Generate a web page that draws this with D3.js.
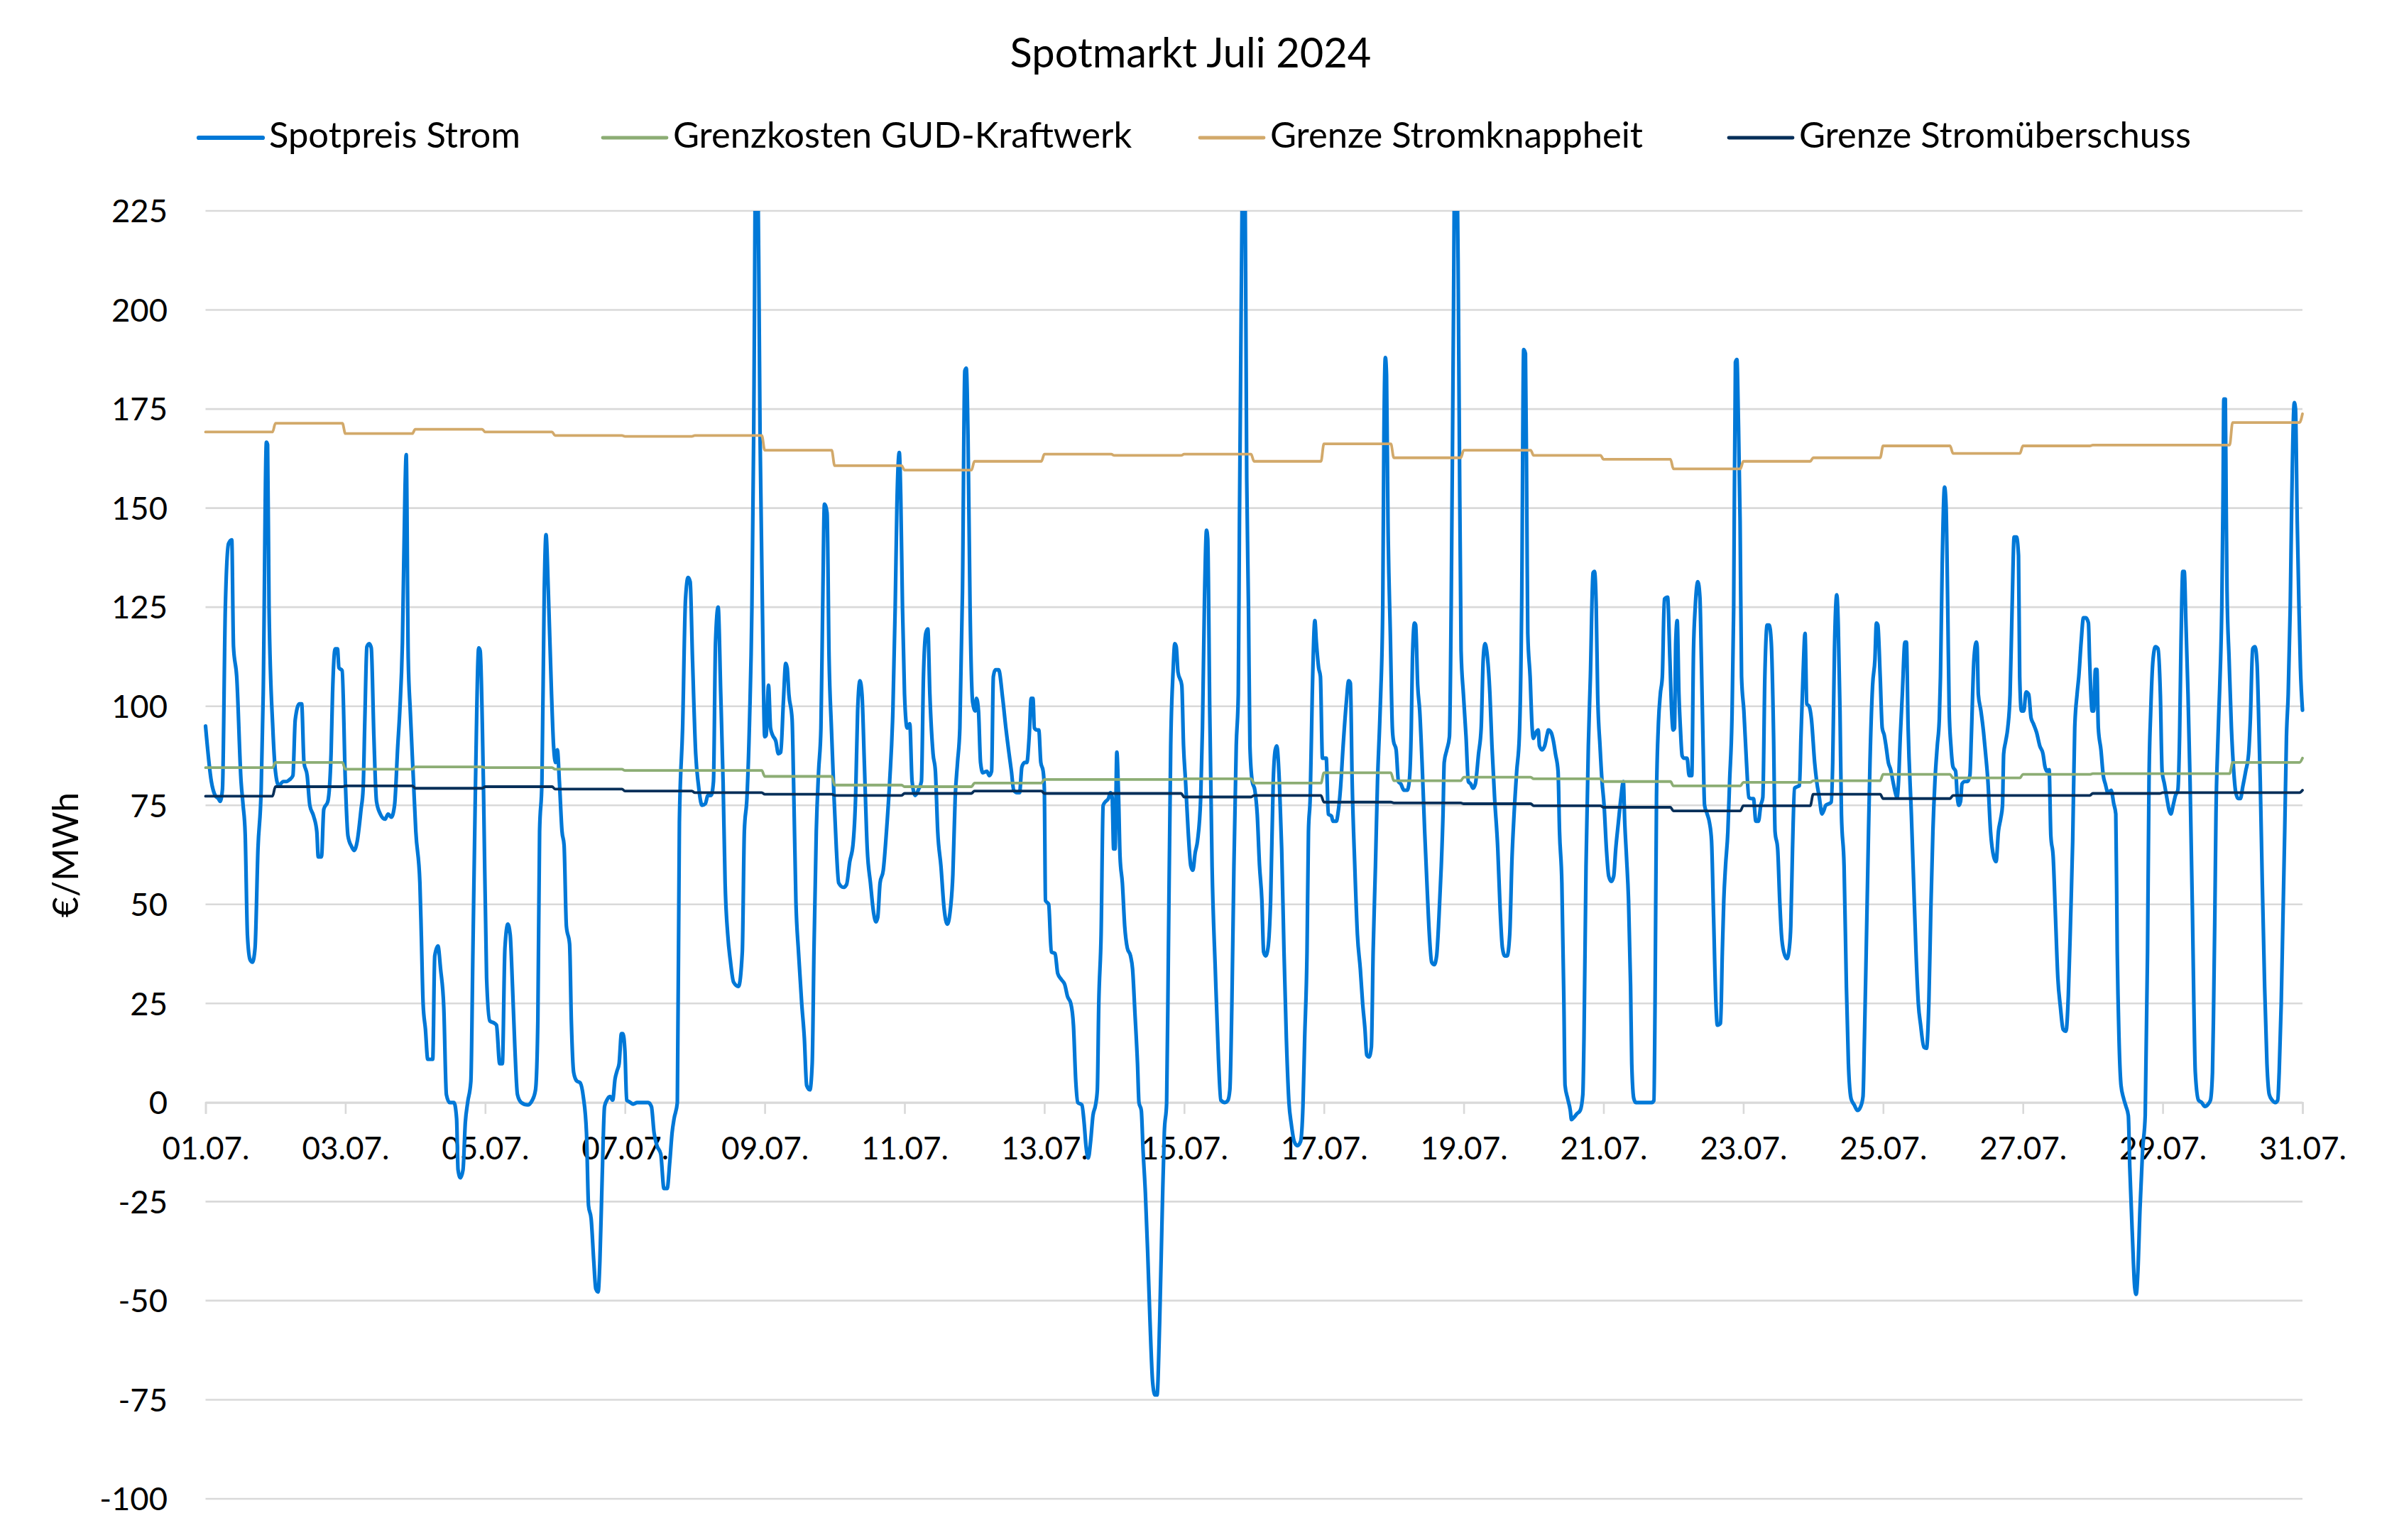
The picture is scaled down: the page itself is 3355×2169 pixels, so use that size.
<!DOCTYPE html>
<html><head><meta charset="utf-8">
<script src="https://cdn.jsdelivr.net/npm/d3@7"></script>
<style>body{margin:0;background:#fff} svg text{font-family:Lato,'Open Sans',sans-serif;fill:#000}</style>
</head><body><svg id="c" width="3355" height="2169"></svg>
<script>
// ---------- DATA ----------
const chartTitle = "Spotmarkt Juli 2024";
const yAxisTitle = "€/MWh";
const seriesNames = ["Spotpreis Strom","Grenzkosten GUD-Kraftwerk","Grenze Stromknappheit","Grenze Stromüberschuss"];
const xTickLabels = ["01.07.","03.07.","05.07.","07.07.","09.07.","11.07.","13.07.","15.07.","17.07.","19.07.","21.07.","23.07.","25.07.","27.07.","29.07.","31.07."];
const yTickValues = [-100,-75,-50,-25,0,25,50,75,100,125,150,175,200,225];

// Spot price: [hour since 01.07. 00:00, €/MWh]
const spotPoints = [
[0,95],[2,81],[3.3,77.5],[4.4,76.7],[5,76],[5.8,79],[6.8,125],[7.9,141],[9,142],[9.6,115],[10.7,107.5],[12.2,81],[12.9,75],[13.6,68],[14.4,42],[15.3,36],[16.1,35.4],[17,39],[18,64],[19.1,79],[19.8,103],[20.9,166.6],[21.3,166],[21.8,125],[23.1,94.5],[24,83.6],[25.1,80],[26.7,81],[27.8,81],[28.9,81.5],[30,82.5],[30.8,96.6],[32.2,100.6],[33,100.6],[33.8,85.8],[34.9,82.5],[35.8,75],[37.1,72.3],[38.2,68.4],[38.7,62],[39.8,62],[40.6,74],[42,76],[43.1,88],[43.6,103],[44.5,114.5],[45.3,114.5],[45.8,109.7],[46.9,109],[48,81],[48.9,67.3],[50.2,64.5],[51,63.6],[52.1,66],[53.4,74],[54.1,79],[54.7,96.7],[55.4,115],[56.2,115.8],[56.9,114.7],[57.8,92.3],[58.7,76],[60,72.8],[61.6,71.5],[62.7,72.8],[63.8,72],[64.9,75],[66,90],[66.7,98.8],[67.6,116],[68.5,155],[68.9,163.5],[69.6,112],[70.3,98.8],[71.4,81],[72.2,68.4],[73.6,55.4],[74.1,42],[74.7,25],[75.5,18.5],[76.3,10.9],[78,10.9],[78.7,37],[79.8,39.5],[80.7,33.7],[81.8,24],[82.7,2],[83.8,0],[85.3,0],[86.2,-4],[86.7,-17],[87.5,-19],[88.4,-17],[89.2,-5],[90,0],[91.1,5.4],[91.8,38],[92.7,81],[93.8,114.7],[94.3,114],[95.4,81],[96.5,31.5],[97.6,20.6],[99.2,20],
[99.9,19.5],[101,9.8],[101.9,9.8],[102.8,39],[103.8,45],[104.6,42.4],[105.4,29.3],[106.2,14],[107.1,2],[108.4,0],[110.6,-0.6],[112.2,0.6],[113.3,3.2],[114.1,20.6],[114.7,68.4],[115.5,81],[116.3,129],[116.9,143.3],[117.7,129],[118.8,103],[119.5,90],[120.2,85.8],[120.8,89],[121.5,81],[122.4,68.4],[123.1,65],[123.9,44.5],[125,40],[125.6,20.6],[126.4,7.6],[127.5,5.4],[128.6,5],[129.7,1.5],[130.8,-7.6],[131.5,-26],[132.4,-29.3],[133.3,-40],[134,-47],[134.8,-47.8],[135.4,-40],[136.2,-18.5],[137,-1],[137.8,0.6],[138.9,1.5],[139.8,0.6],[140.6,5.9],[141.3,8],[142,9.8],[142.8,17.4],[143.3,17.4],[144,13],[144.6,0.6],[145.5,0.2],[146.8,-0.4],[148.2,0],[150,0],[152,0],[153.1,-1],[154,-7.6],[155,-10.9],[156.3,-13],[157.4,-21.7],[158.5,-21.7],[159.4,-15],[160.2,-7.6],[160.9,-4],[162,0],[162.7,70.6],[163.8,94.5],[164.8,127],[165.7,132.5],[166.4,131.4],[167.2,111.9],[168.3,88],[169.2,80.4],[170.5,75],[171.6,75.4],[172.5,77.5],[173.6,77.5],[174.4,81],[175.1,116],[176,125],[176.9,103],[177.7,81],[178.4,55.4],[179.3,42.4],[180.2,35.8],[181.3,30.4],[183,29.3],[184.3,38],[185,68.4],[185.9,77],[186.8,96.7],[187.6,125],[188.2,168],[189.2,268],[190.4,168],[191.2,125],[192,92.3],[192.5,92.7],[193.3,105.3],[194,94.5],[194.7,92.7],[195.8,91.2],[196.7,88],[197.5,88.4],[198.4,101],[199.2,110.8],[199.7,109.7],[200.3,103],[201.4,96.7],[201.9,81],[202.7,51],[203.6,38],[204.7,25],[205.6,16.3],[206.4,4.3],[207.5,3.2],[208.3,9.8],[208.9,38],[209.7,68.4],[210.5,83.6],[211.3,94.5],[211.9,125],[212.5,151],[213.4,148.8],[214.1,112],[214.9,94.5],[215.8,77],[216.6,64],[217.4,55.4],[219,54.3],[220.1,55],[221.2,60.8],[222.3,65],[223.2,77],[223.9,98.8],[224.7,106.4],[225.4,103],[226.2,85.8],[227.2,64],[228.3,55.4],[229.4,47.8],[230.2,45.6],[230.8,46.7],[231.6,55.4],[232.7,58.6],[233.8,68.4],[234.9,81],[236,98.8],[236.8,125],[237.4,151],[238.2,164],[238.7,153],[239.3,125],[240,103],[240.9,94.5],[241.8,95.6],[242.6,81],[243.7,77.5],[244.8,79],[245.8,81],[246.5,107.5],[247.3,118.4],[248,119.5],[248.7,103],[249.8,88],
[250.6,83.6],[251.4,68.4],[252.5,59.7],[253.6,48.9],[254.7,45],[255.6,47.8],[256.6,57.6],[257.4,77],[258.2,85.8],[259,94.5],[259.9,129],[260.7,184.6],[261.2,185.3],[261.8,168],[262.5,125],[263.4,101],[264.3,98.8],[264.7,102],[265.4,98.8],[266.1,85.8],[266.9,83.2],[268.3,83.6],[269.1,82.5],[269.9,83.6],[270.5,107.5],[271.2,109.2],[272.3,109.2],[273.7,102],[274.8,94.5],[275.9,88],[276.7,83.6],[277.5,78.8],[278.6,78.2],[279.5,78.2],[280.3,84.7],[281.3,85.8],[282,85.8],[282.8,92.3],[283.5,102],[284.1,102],[284.6,94.5],[285.4,94],[286.1,94],[286.8,85.8],[287.6,83.6],[288,79.3],[288.4,51],[289.5,50],[290.4,38],[291.7,37.6],[292.6,32.6],[293.9,31],[295,29.8],[296,26.7],[297.1,25],[298,19.5],[298.8,5.4],[299.5,0],[300.9,-0.6],[301.7,-5.4],[302.3,-10.9],[303.1,-14],[303.9,-9.8],[304.7,-3.3],[305.6,-0.6],[306.2,3.2],[306.7,25],[307.5,42.4],[308.2,75],[309.1,76],[310,76.7],[310.7,78.2],[311.3,77],[311.8,64],[312.3,64],[312.9,88.4],[313.5,77],[314,62],[314.8,55.4],[315.6,44.5],[316.5,39],[317.6,37],[318.3,33.7],[319.1,22.8],[320,9.8],[320.5,0],[321.3,-2],[321.9,-12],[322.7,-22.8],[323.5,-38],[324.3,-55.4],[325.2,-70.6],[326,-73.8],[326.7,-73.8],[327.6,-55.4],[328.5,-27],[329.2,-7.6],[330,0],[330.6,38],[331.4,90],[332.2,108.6],[332.8,115.8],[333.3,115],[333.9,108.6],[335.2,105.3],[335.8,90],[336.5,81],[337.4,68.4],[338.3,59.7],[339,58.6],[339.8,63],[340.6,66],[341.7,77],[342.3,94.5],[343,127],[343.7,144.4],[344.1,142.3],[344.8,98.8],[345.6,59.7],[346.7,33.7],[347.8,10.9],[348.6,0.6],[350,0],[351,0.5],[351.7,3.2],[352.4,25],[353.1,59.7],[353.9,90],[354.6,103],[355,146.6],[355.7,209.6],[356.6,268],[357.5,157.5],[358.1,125],[358.6,90],[359.4,81],[360.3,78.8],[361.1,72.8],[361.9,59.7],[362.7,51],[363.3,38],[364,37],[364.8,39],[365.7,51],[366.6,81],[367.3,89],[367.8,90],[368.7,81],[369.5,64],[370.3,38],[371.1,16.3],[372,0],[372.8,-5.4],[373.8,-9.8],[374.9,-10.9],[376,-9.8],[376.8,-1],[377.4,16.3],[378.2,38],[378.7,68.4],[379.3,77],[380,103],[380.9,121.6],[381.4,116.2],[382.2,109.7],[382.8,107.5],[383.5,86.9],[384.1,86.9],[384.8,86.9],[385.5,72.8],[386.6,72.3],[387.1,71],[388.3,71],[388.8,72.8],[389.7,79.3],[390.6,90],[391.7,101],[392.5,106.4],[393.1,105.8],[393.7,81],
[394.6,59.7],[395.5,42.4],[396.5,33.7],[397.3,25],[398.1,18.5],[398.7,12],[399.5,11.5],[400.3,14],[400.9,38],[401.7,59.7],[402.4,81],[403.1,94.5],[403.5,103],[404.2,125],[404.6,168],[405.1,188],[405.5,183.5],[406,146.6],[406.8,118.4],[407.5,94.5],[407.9,91.2],[408.8,89],[409.6,81],[410.4,80.4],[411.5,78.8],[412.6,78.8],[413.3,81],[414,94.5],[414.4,111.9],[415.1,121],[415.5,120.5],[416.2,105.3],[416.9,98.8],[417.7,85.8],[418.6,68.4],[419.5,53.2],[420.2,42.4],[421,35.4],[421.9,34.8],[422.7,37],[423.5,46.7],[424.3,59.7],[424.9,72.8],[425.3,85.8],[426.2,89],[427.1,92.3],[427.7,125],[428.4,190],[429.3,268],[430.4,179],[431.1,114],[431.9,103],[432.8,92.3],[433.6,81],[434.4,80.4],[435.2,79.3],[436,80.4],[437.1,88],[438,94.5],[438.7,111.9],[439.3,115.8],[439.9,114],[441,103],[441.7,90],[442.6,77],[443.7,64],[444.5,48.9],[445.3,39],[446.1,37],[446.9,37],[447.8,42.4],[448.6,62],[449.3,72.8],[450.2,83.6],[451.1,92.3],[451.9,125],[452.6,190],[453.2,189],[453.7,146.6],[454,118.4],[454.8,107.5],[455.5,94.5],[455.9,91.9],[456.8,93.4],[457.6,94],[458,90],[458.9,89],[459.8,90],[460.6,92.7],[461.1,94],[462,93.4],[462.8,91.2],[463.5,88],[464.4,83.6],[464.9,68.4],[465.7,55.4],[466.4,25],[466.8,4.3],[467.7,1],[468.6,-2],[469,-4.3],[469.9,-3.7],[470.9,-2.8],[472,-2],[472.9,2],[473.3,16.3],[474,59.7],[474.8,90],[475.5,107.5],[476.4,133.6],[476.9,134],[477.5,125],[478,103],[478.8,90],[479.5,81],[480.2,75],[481,64],[481.8,57.1],[482.7,55.8],[483.5,57.1],[484.2,64],[485.1,70.6],[486,77],[486.8,81],[487.3,70.6],[487.9,62],[488.6,51],[489.3,29.3],[489.7,9.8],[490.4,1],[491.1,0],[492.8,0],[494.9,0],[496.6,0],[497.3,0.5],[497.7,25],[498.2,77],[498.8,94.5],[499.5,103],[500.2,107.5],[500.9,127],[502,127.5],[502.8,111.9],[503.4,98.8],[503.9,94],[504.4,94.5],[504.8,116.2],[505.3,121.6],[505.9,103],[506.4,94.5],[507,87.5],[507.6,86.9],[508.7,86.9],[509.4,82.5],[510.3,82.5],[510.9,114],[511.5,125],[512.4,131.4],[513.1,127.5],[513.6,111.9],[514.2,90],[514.7,75],[515.6,72.8],[516.4,70.6],[517.1,66],[517.8,46.7],[518.6,25],[519.1,19.5],[520.2,20],[520.8,38],[521.3,51],[521.9,59.7],[522.7,68.4],[523.3,81],[524.1,96.7],[524.7,125],[525.3,186.8],[525.8,187.5],[526.3,172.7],[526.9,146.6],[527.4,107.5],[528.2,98.8],[529.1,85.8],[529.9,77],[530.7,76.7],[531.5,76.7],[532.3,71],[533.2,71],[534,75],[534.7,77],[535.4,107.5],[536.2,120.5],[536.9,120.5],[537.6,116.2],[538.4,92.3],[538.9,68.4],[539.8,64],
[540.5,51],[541.1,42.4],[541.9,38],[543,36.3],[543.8,39],[544.3,44.5],[544.9,64],[545.6,79.3],[546.5,79.7],[547.3,80],[547.8,92.3],[548.5,107.5],[549.2,118.4],[549.8,100.6],[550.6,100],[551.4,96.7],[552.5,85.8],[553.2,81],[554.1,77],[555,72.8],[555.7,73.8],[556.3,75],[557.4,75.4],[558.2,75.8],[558.7,85.8],[559.3,114],[560.1,128.1],[560.6,120.5],[561.2,98.8],[561.7,72.8],[562.6,59.7],[563.4,29.3],[564.1,9.8],[565,1],[566.1,-0.6],[567.2,-2],[568.3,-1],[569.1,1.5],[569.6,16.3],[570.2,38],[571,68.4],[571.5,85.8],[572.4,105.3],[573.2,111.9],[573.7,121],[574.2,120.5],[575,107.5],[575.7,94.5],[576.4,92.7],[577,90],[577.8,85.8],[578.6,84],[579.4,81],[580.2,78.2],[580.8,77],[581.3,81],[581.9,92.3],[582.6,103],[583.5,116.2],[584,116.2],[584.6,94.5],[585.7,72.8],[586.5,55.4],[587.3,38],[588.1,25],[588.9,19.5],[590,14],[590.9,13.7],[591.7,25],[592.4,48.9],[593.1,68.4],[593.8,81],[594.6,90],[595.3,96.7],[595.7,107.5],[596.3,135.8],[597.1,155.3],[597.6,151],[598.2,125],[598.7,98.8],[599.3,90],[600,84.7],[600.9,83.6],[601.5,77],[602,75],[602.6,76],[603.1,80.4],[604,81],[605,81],[605.8,82.5],[606.3,92.3],[607.2,111.9],[608,116.2],[608.3,115],[608.7,103],[609.6,98.8],[610.5,93.4],[611.2,88],[612,81],[612.9,68.4],[614,62],[614.8,60.8],[615.6,68.4],[616.4,71.7],[617,75],[617.4,88],[618.1,91.2],[618.8,94.5],[619.6,103],[620.3,125],[621,142.7],[621.8,142.7],[622.5,138],[622.9,107.5],[623.5,98.8],[624.3,98.8],[625.1,103.6],[626,103],[626.8,97.1],[627.6,95.6],[628.7,93.4],[629.8,90],[630.9,88],[631.6,84.7],[632.3,83.6],[633,84],[633.6,67.3],[634.4,62],[635.2,46.7],[636,31.5],[636.9,24],[637.8,18.5],[638.8,18],[639.6,27],[640.4,46.7],[641.1,66],[641.8,94.5],[642.6,103],[643.2,107.5],[644,116.2],[644.8,122.3],[645.6,122.3],[646.5,121],[646.9,111.9],[647.8,98.8],[648.3,98.8],[648.9,109.3],[649.4,109.3],[649.9,94.5],[650.8,89],[651.6,82.5],[652.3,80.4],[653.2,78.2],[654.3,78.8],[655.2,75.4],[655.9,72.8],[656.4,38],[657,16.3],[657.7,4.3],[658.6,1],[659.4,-1],[660.2,-3.3],[660.7,-16.3],[661.6,-33.7],[662.4,-46.7],[662.9,-48.4],[663.5,-42.4],[664.2,-27],[665.1,-12],[666,-3.3],[666.8,38],[667.3,81],[667.9,98.8],[668.7,111.9],[669.5,115],[670.4,114.5],[671.2,103],[671.8,83.6],[672.6,80.4],[673.4,77],[674.2,73.8],[674.8,72.8],[675.6,75],[676.4,77.5],[677.2,78.8],[677.8,92.3],[678.3,116.2],[678.9,134],[679.4,134],[680,120.5],[680.7,103],[681.4,81],[682.2,48.9],[682.7,25],[683.2,7.6],[684.3,0.6],[685.4,0],[686.5,-1],[687.6,-0.4],[688.4,0.6],[689.1,7.6],[689.5,25],[689.9,46.7],[690.3,72.8],[690.9,90],[691.4,101],[691.9,112],[692.3,125],[692.7,151],[693,177.5],[693.5,177.5],[693.8,151],[694.1,129],[694.8,112],[695.6,94.5],[696.4,83.6],[697.1,78.2],[697.9,76.7],[698.7,76.7],[699.5,79.7],[700.5,83.6],[701.5,88],[702.1,96.7],[702.9,114.5],[703.7,115],[704.4,110.8],[704.9,98.8],[705.5,81],[706.2,55.4],[707,29.3],[707.8,9.8],[708.6,2],[709.6,0.6],[710.7,0],[711.5,0.6],[712,7.6],[712.7,25],[713.3,46.7],[713.9,68.4],[714.5,92.3],[715.1,103],[715.8,125],[716.3,151],[717.2,176.6],[717.6,175],[718.2,146.6],[718.8,125],[719.3,109.7],[720,99]
];

// Daily values (index = day of July - 1; last entry = 31.07. 00:00)
const gudDaily   = [84.5,85.8,84.1,84.7,84.5,84.1,83.8,83.8,82.3,80.1,79.7,80.6,81.5,81.5,81.7,80.6,83.2,81.2,82.1,81.7,81.0,79.9,80.8,81.2,82.8,81.9,82.8,83.0,83.0,85.8,86.9];
const knappDaily = [169.2,171.4,168.8,169.9,169.2,168.3,168.1,168.3,164.6,160.7,159.6,161.8,163.6,163.3,163.6,161.8,166.2,162.7,164.6,163.3,162.3,159.9,161.8,162.7,165.7,163.8,165.7,165.9,165.9,171.6,173.8];
const ueberDaily = [77.3,79.7,79.9,79.3,79.7,79.1,78.6,78.2,77.8,77.5,78.0,78.6,78.0,78.0,77.1,77.5,75.8,75.6,75.4,74.9,74.5,73.6,74.9,77.8,76.7,77.5,77.5,78.0,78.2,78.2,78.8];

// ---------- STYLE ----------
const colors = ["#0078d7","#8cad74","#d2a96a","#062f59"];
const widths = [5.2,3.8,3.8,3.8];

// ---------- LAYOUT ----------
const svg = d3.select("#c");
const plot = {left:289.5, right:3243, top:297, bottom:2111};
const x = d3.scaleLinear().domain([0,720]).range([plot.left, plot.right]);
const y = d3.scaleLinear().domain([-100,225]).range([plot.bottom, plot.top]);

function fitSize(str, target, base=50){
  const t = svg.append("text").attr("font-size",base).text(str);
  const w = t.node().getComputedTextLength(); t.remove();
  return base*target/w;
}

// gridlines
svg.append("g").selectAll("line").data(yTickValues).join("line")
  .attr("x1",plot.left).attr("x2",plot.right)
  .attr("y1",d=>y(d)).attr("y2",d=>y(d))
  .attr("stroke","#d9d9d9").attr("stroke-width",2.6);

// x axis at 0 with tick marks
const xTickHours = xTickLabels.map((d,i)=>i*48);
const xAxis = d3.axisBottom(x).tickValues(xTickHours).tickSize(16).tickFormat((d,i)=>xTickLabels[i]);
const xg = svg.append("g").attr("transform",`translate(0,${y(0)})`).call(xAxis);
xg.select(".domain").attr("stroke","#d9d9d9").attr("stroke-width",2.6);
xg.selectAll(".tick line").attr("stroke","#d9d9d9").attr("stroke-width",2.6);
const xFs = fitSize("01.07.",123);
xg.selectAll(".tick text").attr("font-size",xFs).attr("font-family","Lato").attr("fill","#000")
  .attr("y",null).attr("dy",null).attr("transform",`translate(0,${1633-y(0)})`);

// y labels
const yFs = fitSize("225",79);
svg.append("g").selectAll("text").data(yTickValues).join("text")
  .attr("x",236).attr("y",d=>y(d)+yFs*0.36).attr("text-anchor","end")
  .attr("font-size",yFs).text(d=>d);

// y axis title
const atFs = fitSize(yAxisTitle,176);
svg.append("text").attr("transform",`translate(${92+atFs*0.36},${(plot.top+plot.bottom)/2}) rotate(-90)`)
  .attr("text-anchor","middle").attr("font-size",atFs).text(yAxisTitle);

// title
const tFs = fitSize(chartTitle,509);
svg.append("text").attr("x",1677).attr("y",95).attr("text-anchor","middle").attr("font-size",tFs).text(chartTitle);

// series
svg.append("defs").append("clipPath").attr("id","clip").append("rect")
  .attr("x",plot.left-10).attr("y",plot.top).attr("width",plot.right-plot.left+20).attr("height",plot.bottom-plot.top);
const line = d3.line().x(d=>x(d[0])).y(d=>y(d[1])).curve(d3.curveMonotoneX);
function dailyToPoints(arr){
  const pts=[];
  for(let d=0; d<arr.length-1; d++){ pts.push([d*24,arr[d]]); pts.push([d*24+23,arr[d]]); }
  pts.push([(arr.length-1)*24, arr[arr.length-1]]);
  return pts;
}
const seriesData = [spotPoints, dailyToPoints(gudDaily), dailyToPoints(knappDaily), dailyToPoints(ueberDaily)];
const sg = svg.append("g").attr("clip-path","url(#clip)");
seriesData.forEach((pts,i)=>{
  sg.append("path").datum(pts).attr("d",line).attr("fill","none")
    .attr("stroke",colors[i]).attr("stroke-width",widths[i]).attr("stroke-linejoin","round").attr("stroke-linecap","round");
});

// legend
const legX = [280,849,1690,2435];
const legTargets = [355,633,530,557];
const lFs = d3.mean(seriesNames.map((n,i)=>fitSize(n,legTargets[i])));
const lg = svg.append("g");
seriesNames.forEach((n,i)=>{
  lg.append("line").attr("x1",legX[i]).attr("x2",legX[i]+90).attr("y1",194).attr("y2",194)
    .attr("stroke",colors[i]).attr("stroke-width",widths[i]+1).attr("stroke-linecap","round");
  lg.append("text").attr("x",legX[i]+99).attr("y",208).attr("font-size",lFs).text(n);
});
</script></body></html>
